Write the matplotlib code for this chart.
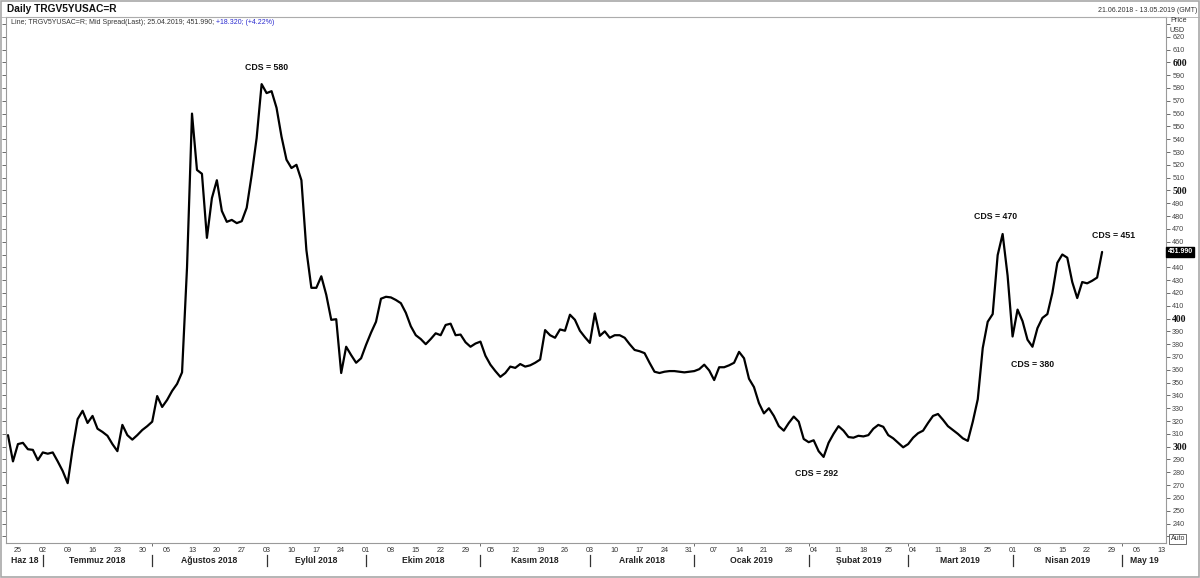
import numpy as np
import pandas as pd
import matplotlib
matplotlib.use("Agg")
import matplotlib.pyplot as plt
from matplotlib.transforms import blended_transform_factory
from matplotlib.patches import Rectangle

plt.rcParams['font.family'] = ['Liberation Sans', 'DejaVu Sans']

# ---------------- data ----------------
first_date = "2018-06-21"
last_date = "2019-04-25"
axis_end = "2019-05-14"

spread = [
    309, 288.5,
    302, 303, 298, 297.5, 289.5,
    295.5, 294.5, 295.5, 288.5, 281,
    271.5, 298.5, 321.5, 328, 318.5,
    324, 314, 311.5, 308.5, 302,
    296.5, 317, 309, 305.5, 309,
    313, 316, 319.5, 339.5, 331,
    336.5, 343.5, 349, 358, 440,
    560, 516, 513, 463, 494,
    508, 484, 475.5, 477, 474.5,
    476, 486.5, 512, 541, 583,
    576, 577.5, 564.5, 542, 524,
    517.5, 520, 508, 453.5, 424,
    424, 433, 418.5, 399, 399.5,
    357.5, 378, 371.5, 365.5, 369,
    379.5, 389, 397.5, 415.5, 417,
    416.5, 414.5, 412, 404.5, 394,
    387, 384, 380, 384, 388.5,
    387, 395, 396, 387, 387.5,
    381.5, 378, 380.5, 382, 371,
    364, 359, 354.5, 357.5, 362.5,
    361.5, 364.5, 362.5, 363.5, 365.5,
    368, 391, 387, 385, 391.5,
    390.5, 403, 399, 390.5, 385.5,
    381, 404, 386.5, 390, 385,
    387, 387, 385, 380, 375.5,
    374.5, 373, 365.5, 358.5, 357.5,
    358.5, 359, 359, 358.5, 358,
    358.5, 359, 360.5, 364, 359.5,
    352, 362, 362, 363.5, 365.5,
    374, 369, 353, 346.5, 334,
    326, 330, 324, 316, 312.5,
    318.5, 323.5, 319.5, 306, 303.5,
    305, 296.5, 292, 303, 310,
    316, 312.5, 307.5, 307, 308.5,
    308, 309, 314, 317, 315.5,
    309, 306.5, 303, 299.5, 302,
    307, 310.5, 312.5, 318.5, 324,
    325.5, 321, 316, 313, 310,
    306.5, 304.5, 319.5, 337, 377,
    397.5, 403.5, 449.5, 466, 433.5,
    386, 407, 398, 383.5, 378,
    392.5, 400.5, 403.5, 420, 443.5,
    450, 447.5, 428.5, 416, 428.5,
    427.5, 429.5, 432, 452,
]

week_starts = pd.date_range("2018-06-25", "2019-05-13", freq="W-MON")
month_starts = pd.date_range("2018-07-01", "2019-05-01", freq="MS")
month_labels = ["Haz 18", "Temmuz 2018", "Ağustos 2018", "Eylül 2018", "Ekim 2018",
                "Kasım 2018", "Aralık 2018", "Ocak 2019", "Şubat 2019", "Mart 2019",
                "Nisan 2019", "May 19"]
y_ticks = list(range(230, 640, 10))
bold_ticks = [300, 400, 500, 600]
hidden_ticks = [230, 450, 630]

callout_text = ["CDS = 580", "CDS = 470", "CDS = 451", "CDS = 380", "CDS = 292"]
callout_day = [52.0, 198.5, 222.3, 206.0, 162.6]
callout_val = [595.9, 479.5, 464.7, 364.3, 279.2]

last_value = "451.990"
title = "Daily TRGV5YUSAC=R"
info_main = "Line; TRGV5YUSAC=R; Mid Spread(Last); 25.04.2019; 451.990; "
info_change = "+18.320; (+4.22%)"
range_text = "21.06.2018 - 13.05.2019 (GMT)"

# ---------------- figure ----------------
W, H = 1200, 578
fig = plt.figure(figsize=(W / 100, H / 100), dpi=100)
fig.patch.set_facecolor("white")

L, R, T, B = 6, 1166, 17, 543
ax = fig.add_axes([L / W, (H - B) / H, (R - L) / W, (B - T) / H])

def bday(d):
    return int(np.busday_count(np.datetime64(first_date), np.datetime64(pd.Timestamp(d).date())))

dates = pd.bdate_range(first_date, last_date)
x = np.array([bday(d) for d in dates])
n = min(len(x), len(spread))
ax.plot(x[:n], spread[:n], color="black", lw=1.6, solid_joinstyle="round", solid_capstyle="round")

ax.set_xlim(-0.4, bday(axis_end) - 0.15)
ax.set_ylim(224.8, 635.4)

for s in ax.spines.values():
    s.set_color("#9a9a9a")
    s.set_linewidth(0.8)

# y axis: ticks both sides, labels on right
ax.set_yticks(y_ticks)
ax.set_yticklabels(["" if v in hidden_ticks else str(v) for v in y_ticks])
ax.tick_params(axis="y", which="major", left=True, right=True, labelleft=False,
               labelright=True, direction="out", length=3, width=0.6, color="#555555",
               labelsize=5.2, labelcolor="#444444", pad=1.5)
for lbl, v in zip(ax.get_yticklabels(), y_ticks):
    if v in bold_ticks:
        lbl.set_fontfamily(["Liberation Serif", "DejaVu Serif"])
        lbl.set_fontweight("bold")
        lbl.set_fontsize(7)
        lbl.set_color("#111111")

# x axis: week labels
wk_pos = [bday(d) for d in week_starts]
ax.set_xticks(wk_pos)
ax.set_xticklabels([d.strftime("%d") for d in week_starts])
ax.tick_params(axis="x", which="major", length=0, labelsize=5.2, labelcolor="#333333", pad=3)
ms_pos = [bday(d) for d in month_starts]
ax.set_xticks(ms_pos, minor=True)
ax.tick_params(axis="x", which="minor", length=2.5, width=0.6, color="#555555", direction="out")

trans = blended_transform_factory(ax.transData, ax.transAxes)
xl = ax.get_xlim()
bounds = [xl[0]] + ms_pos + [xl[1]]
for i, name in enumerate(month_labels):
    cx = (bounds[i] + bounds[i + 1]) / 2
    ax.text(cx, -0.0325, name, transform=trans, ha="center", va="center",
            fontsize=6.2, fontweight="bold", color="#222222", clip_on=False)
for p in ms_pos:
    ax.plot([p, p], [-0.022, -0.044], transform=trans, color="#333333", lw=0.9, clip_on=False)

# callouts
for t, dx, v in zip(callout_text, callout_day, callout_val):
    ax.text(dx, v, t, ha="center", va="center", fontsize=6.3, fontweight="bold", color="#111111")

# last value box
tr_r = blended_transform_factory(ax.transAxes, ax.transData)
ax.text(1.0015, float(last_value), last_value, transform=tr_r, ha="left", va="center",
        fontsize=5.0, fontweight="bold", color="white", clip_on=False,
        bbox=dict(boxstyle="square,pad=0.2", facecolor="black", edgecolor="black"))

# right axis header / footer
fig.text(1170 / W, 1 - 21 / H, "Price", fontsize=5.2, color="#333333", ha="left", va="center")
fig.text(1170 / W, 1 - 30.5 / H, "USD", fontsize=5.2, color="#333333", ha="left", va="center")
fig.text(1170.5 / W, 1 - 539 / H, "Auto", fontsize=5.0, color="#333333", ha="left", va="center",
         bbox=dict(boxstyle="square,pad=0.15", facecolor="white", edgecolor="#555555", lw=0.6))

# headers
fig.text(7 / W, 1 - 9.3 / H, title, fontsize=7.3, fontweight="bold", color="#111111",
         ha="left", va="center")
t1 = fig.text(11 / W, 1 - 22.7 / H, info_main, fontsize=5.0, color="#333333", ha="left", va="center")
fig.canvas.draw()
bb = t1.get_window_extent(renderer=fig.canvas.get_renderer())
fig.text(bb.x1 / W, 1 - 22.7 / H, info_change, fontsize=5.0, color="#2b2bd0", ha="left", va="center")
fig.text(1197 / W, 1 - 11 / H, range_text, fontsize=5.0, color="#333333", ha="right", va="center")

# outer frame
fig.patches.append(Rectangle((0.0005, 0.001), 0.999, 0.998, transform=fig.transFigure,
                             fill=False, edgecolor="#a8a8a8", lw=1.2))
fig.patches.append(Rectangle((0, 1 - 17 / H), 1, 0, transform=fig.transFigure,
                             fill=False, edgecolor="#b0b0b0", lw=0.6))

fig.savefig("out.png", dpi=100, facecolor="white")
